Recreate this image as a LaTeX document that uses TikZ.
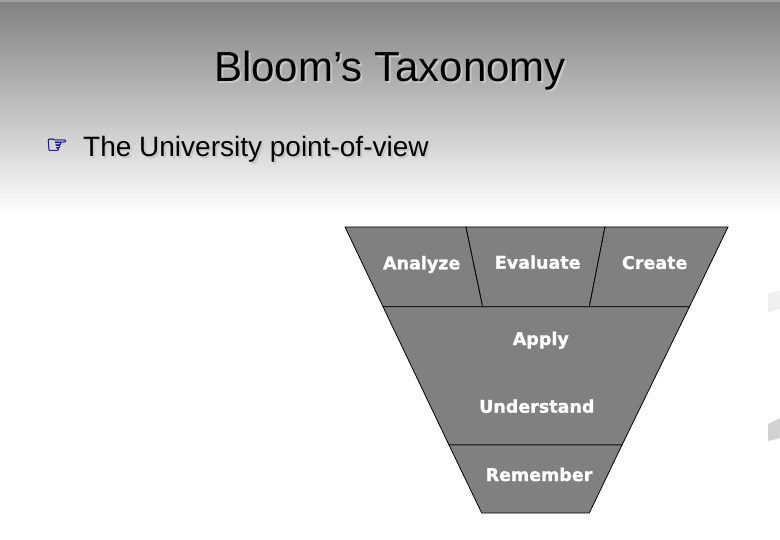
\documentclass[tikz,border=0pt]{standalone}
\usepackage{fontspec}
\setmainfont{Liberation Sans}
\newfontfamily\lblfont[FakeBold=1.2]{DejaVu Sans Bold}
\newfontfamily\handfont[FakeBold=1.5]{DejaVu Sans}
\usetikzlibrary{positioning}
\definecolor{funnelgray}{RGB}{128,128,128}
\definecolor{slidegray}{RGB}{128,128,128}
\definecolor{handblue}{RGB}{20,20,140}
% text with a soft drop shadow, set as one node text
\newcommand{\shadowtxt}[1]{\makebox[0pt][l]{\hspace{2pt}\raisebox{-2pt}{\textcolor{black!22}{#1}}}#1}

\begin{document}
\begin{tikzpicture}
  [x=1pt,y=-1pt,
   tierN/.style={draw=black,line width=0.8pt,fill=funnelgray,line join=miter},
   lblN/.style={anchor=base,inner sep=0pt,text=white,
     font=\lblfont\fontsize{17.5}{19}\selectfont},
   titleN/.style={anchor=base,inner sep=0pt,font=\fontsize{42}{46}\selectfont},
   bulletN/.style={anchor=base west,inner sep=0pt,font=\fontsize{28}{32}\selectfont},
  ]

 % slide background
 \useasboundingbox (0,0) rectangle (780,540);
 \fill[white] (0,0) rectangle (780,540);
 \shade[top color=slidegray,bottom color=white] (0,0) rectangle (780,215);
 \fill[slidegray!75] (0,0) rectangle (780,2);
 \fill[black!6] (768,294) -- (780,290) -- (780,309) -- (768,312) -- cycle;
 \fill[black!18] (768,424) -- (780,418) -- (780,438) -- (768,441) -- cycle;

 % title and bullet
 \node[titleN] (title) at (390,82) {\shadowtxt{Bloom’s Taxonomy}};
 \node[inner sep=0pt,text=handblue,font=\handfont\fontsize{25}{27}\selectfont]
   (hand) at (57,146) {☞};
 \node[bulletN] (bullet) at (83,157) {\shadowtxt{The University point-of-view}};

 % funnel tiers
 \draw[tierN] (345,227) -- (466,227) -- (482.7,306.7) -- (383,306.7) -- cycle;
 \draw[tierN] (466,227) -- (605,227) -- (589.3,306.7) -- (482.7,306.7) -- cycle;
 \draw[tierN] (605,227) -- (728,227) -- (689.5,306.7) -- (589.3,306.7) -- cycle;
 \draw[tierN] (383,306.7) -- (689.5,306.7) -- (622,445) -- (449,445) -- cycle;
 \draw[tierN] (449,445) -- (622,445) -- (589.3,513) -- (481.7,513) -- cycle;

 % labels
 \node[lblN] (analyze) at (421.7,269.3) {Analyze};
 \node[lblN] (evaluate) at (537.7,268.7) {Evaluate};
 \node[lblN] (create) at (654.7,269) {Create};
 \node[lblN] (apply) at (540.8,345) {Apply};
 \node[lblN] (understand) at (536.8,412.7) {Understand};
 \node[lblN] (remember) at (539,481) {Remember};
\end{tikzpicture}
\end{document}
